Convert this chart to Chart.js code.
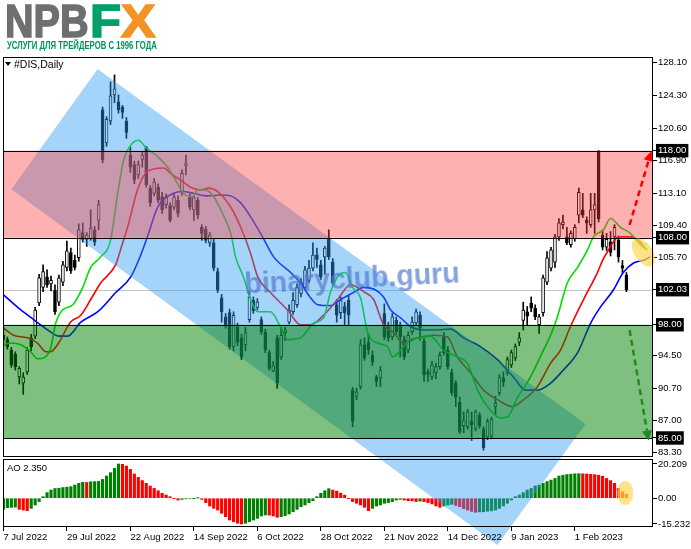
<!DOCTYPE html>
<html lang="ru">
<head>
<meta charset="utf-8">
<title>#DIS Daily</title>
<script src="https://cdn.jsdelivr.net/npm/chart.js@4.4.1/dist/chart.umd.min.js"></script>
<style>
  body { margin: 0; background: #fff; }
  #wrap { position: relative; width: 691px; height: 549px; overflow: hidden; font-family: 'Liberation Sans', Arial, sans-serif; }
  #myChart { position: absolute; left: 0; top: 0; }
  .abs { position: absolute; white-space: nowrap; line-height: 1; }
  .logo { top: -2px; font-size: 46px; font-weight: bold; line-height: 46px; transform-origin: 0 0; -webkit-text-stroke: 1.6px currentColor; }
  #logoNpb { left: 5px; color: #6e6f71; transform: scaleX(0.86); }
  #logoF { left: 90px; color: #00a067; transform: scaleX(1.1); }
  #logoX { left: 121px; color: #f39324; transform: scaleX(1.12); }
  #tagline { left: 7px; top: 40px; font-size: 11px; font-weight: bold; color: #00935c; transform-origin: 0 0; }
  #tri { left: 5px; top: 62px; width: 0; height: 0; border-left: 3px solid transparent; border-right: 3px solid transparent; border-top: 4px solid #000; }
  #symbol { left: 14px; top: 59px; font-size: 10.5px; color: #000; }
  #aoLabel { left: 7px; top: 463px; font-size: 9.5px; color: #000; }
  #mark { left: 352px; top: 278px; transform: translate(-50%, -50%) rotate(-3deg) scaleX(0.95); font-size: 30px; font-weight: bold; color: rgba(80, 118, 205, 0.68); pointer-events: none; }
</style>
</head>
<body>
<div id="wrap">
  <canvas id="myChart" width="691" height="549"></canvas>
  <div class="abs logo" id="logoNpb">NPB</div>
  <div class="abs logo" id="logoF">F</div>
  <div class="abs logo" id="logoX">X</div>
  <div class="abs" id="tagline">УСЛУГИ ДЛЯ ТРЕЙДЕРОВ С 1996 ГОДА</div>
  <div class="abs" id="tri"></div>
  <div class="abs" id="symbol">#DIS,Daily</div>
  <div class="abs" id="aoLabel"></div>
  <div class="abs" id="mark">binaryclub.guru</div>
</div>
<script>
// x axis labels, one every 16 daily bars
const tickBars = [0, 16, 32, 48, 64, 80, 96, 112, 128, 144];
const tickLabels = ['7 Jul 2022', '29 Jul 2022', '22 Aug 2022', '14 Sep 2022', '6 Oct 2022',
    '28 Oct 2022', '21 Nov 2022', '14 Dec 2022', '9 Jan 2023', '1 Feb 2023'];

const priceTicks = [128.10, 124.30, 120.60, 116.90, 113.10, 109.40, 105.70, 94.50, 90.70, 87.00, 83.30];
const markedPrices = [118.00, 108.00, 102.03, 98.00, 85.00];
const aoTicks = [20.209, 0, -15.232];

// daily candles #DIS
const opens = [
    96.8, 96.3, 95.1, 94.6, 92.0, 91.3, 92.6, 96.5, 96.7, 100.5,
    102.3, 103.5, 102.7, 102.0, 100.6, 102.9, 104.6, 106.3, 105.4, 105.7,
    108.6, 107.8, 107.9, 108.9, 110.0, 122.7, 118.9, 121.4, 124.4, 123.6,
    123.0, 121.4, 117.5, 116.4, 115.2, 117.0, 118.4, 113.7, 113.1, 113.8,
    112.7, 111.8, 111.7, 111.5, 112.3, 113.3, 116.3, 112.7, 111.2, 112.3,
    109.2, 109.0, 107.4, 107.4, 104.1, 101.1, 98.9, 99.4, 95.5, 97.7,
    96.5, 95.7, 98.6, 100.8, 100.0, 98.6, 97.2, 94.8, 92.7, 96.5,
    94.3, 97.1, 98.3, 99.5, 100.3, 101.6, 102.3, 103.1, 104.5, 106.0,
    104.9, 105.8, 108.0, 105.2, 100.3, 99.4, 100.1, 100.8, 90.5, 89.8,
    90.9, 95.7, 96.0, 94.5, 92.0, 91.9, 99.3, 97.7, 96.6, 98.5,
    98.0, 96.3, 95.1, 97.2, 98.2, 99.1, 96.1, 92.6, 92.0, 92.5,
    93.2, 96.6, 95.1, 92.5, 91.3, 89.1, 86.4, 86.3, 86.9, 86.1,
    87.6, 86.0, 85.1, 85.2, 88.6, 90.2, 91.9, 92.5, 93.4, 94.2,
    96.0, 98.5, 99.5, 100.5, 99.9, 98.0, 99.4, 102.9, 104.5, 105.2,
    108.1, 109.5, 108.1, 107.2, 107.9, 110.6, 111.2, 110.0, 109.5, 111.2,
    117.8, 108.3, 106.9, 107.5, 108.1, 107.7, 104.8, 103.7
];
const highs = [
    97.8, 96.6, 95.4, 94.9, 93.2, 92.5, 95.4, 96.9, 100.0, 103.8,
    104.9, 104.3, 103.6, 102.6, 103.7, 105.3, 107.6, 106.8, 106.0, 109.6,
    109.7, 108.6, 111.2, 109.3, 112.3, 123.0, 121.9, 125.9, 126.7, 124.4,
    123.2, 121.8, 118.4, 116.8, 116.8, 117.8, 118.5, 114.0, 114.8, 114.2,
    113.2, 113.0, 112.0, 113.0, 112.8, 115.8, 117.5, 113.0, 112.8, 112.6,
    109.5, 109.3, 108.6, 107.8, 104.5, 101.5, 99.3, 99.8, 99.5, 98.2,
    96.9, 97.7, 101.8, 101.2, 101.0, 98.9, 97.5, 95.1, 93.8, 96.8,
    97.7, 97.7, 100.3, 101.7, 102.7, 103.3, 104.7, 105.4, 107.4, 106.8,
    105.4, 107.0, 108.9, 105.6, 100.9, 101.2, 100.6, 101.4, 90.8, 90.7,
    96.3, 96.5, 96.9, 95.0, 92.2, 93.2, 100.4, 98.3, 99.3, 98.9,
    98.3, 96.7, 97.2, 98.9, 99.8, 99.5, 96.5, 92.9, 93.8, 93.6,
    94.9, 97.1, 95.5, 92.9, 91.6, 89.7, 88.0, 88.3, 88.0, 88.2,
    87.9, 86.3, 87.2, 87.4, 89.8, 92.3, 92.6, 94.3, 95.1, 95.8,
    97.1, 100.6, 100.1, 101.2, 100.3, 99.2, 103.7, 106.4, 106.9, 108.4,
    110.2, 110.6, 109.2, 108.8, 109.5, 113.7, 113.1, 110.4, 113.1, 113.1,
    118.0, 108.9, 108.5, 108.7, 109.5, 108.2, 105.4, 104.0
];
const lows = [
    95.6, 95.2, 93.1, 92.8, 91.2, 90.0, 92.3, 95.0, 96.4, 100.2,
    101.8, 102.3, 101.9, 99.2, 100.2, 102.5, 104.2, 103.9, 104.3, 105.3,
    107.5, 107.0, 107.7, 107.1, 108.9, 116.6, 118.5, 121.0, 123.5, 122.3,
    121.7, 119.4, 115.5, 114.2, 114.8, 116.1, 113.8, 111.6, 112.8, 112.0,
    110.8, 111.4, 109.8, 111.2, 110.4, 112.9, 115.2, 111.2, 110.0, 110.2,
    107.7, 107.4, 107.0, 104.2, 101.7, 98.3, 97.6, 95.2, 95.0, 95.6,
    94.0, 95.0, 98.3, 99.3, 99.7, 96.9, 94.8, 92.8, 92.6, 90.7,
    94.0, 96.2, 98.1, 99.2, 100.0, 101.2, 102.0, 102.8, 104.2, 104.6,
    103.2, 103.8, 105.5, 102.5, 98.3, 98.7, 98.0, 98.0, 86.3, 89.4,
    90.6, 93.9, 94.6, 93.3, 90.9, 90.9, 96.3, 96.1, 96.3, 96.9,
    94.3, 94.0, 94.8, 96.9, 97.9, 96.2, 91.5, 91.5, 91.7, 91.8,
    92.9, 94.5, 92.9, 89.9, 88.6, 85.5, 85.6, 86.0, 84.7, 85.8,
    86.1, 83.6, 84.8, 84.9, 87.6, 89.9, 90.9, 92.2, 93.1, 93.9,
    95.6, 97.4, 98.0, 99.5, 98.6, 97.0, 99.0, 102.6, 104.2, 104.6,
    107.7, 109.0, 107.2, 106.9, 107.6, 109.7, 110.3, 108.5, 109.2, 108.5,
    109.8, 106.6, 106.5, 105.9, 106.6, 105.2, 104.0, 101.8
];
const closes = [
    96.3, 95.5, 93.4, 93.2, 93.0, 92.0, 95.1, 95.5, 99.7, 103.4,
    104.1, 102.6, 103.1, 99.5, 103.4, 104.9, 106.5, 104.2, 104.6, 108.9,
    107.8, 108.3, 109.1, 107.5, 111.8, 116.9, 121.6, 124.3, 125.1, 122.7,
    122.4, 120.1, 116.1, 114.6, 116.4, 117.5, 114.1, 112.0, 114.4, 112.3,
    111.2, 112.7, 110.0, 112.7, 110.8, 115.4, 116.5, 111.5, 112.6, 110.6,
    108.5, 107.7, 108.3, 104.5, 102.0, 99.5, 98.0, 95.5, 99.1, 96.0,
    94.3, 97.1, 101.2, 99.6, 100.6, 97.2, 95.1, 93.0, 93.3, 91.3,
    96.8, 97.4, 99.7, 100.8, 102.3, 102.9, 104.3, 104.5, 106.0, 105.5,
    103.5, 106.8, 105.8, 102.8, 99.1, 100.8, 99.4, 99.1, 86.9, 90.3,
    95.7, 94.2, 95.1, 93.7, 91.5, 92.8, 96.6, 96.5, 98.9, 97.2,
    96.6, 94.3, 96.8, 98.3, 99.5, 97.6, 92.2, 92.3, 93.4, 93.2,
    94.5, 94.8, 93.2, 90.2, 89.7, 85.7, 87.0, 88.0, 86.5, 88.0,
    86.4, 83.9, 86.9, 87.1, 89.0, 92.0, 91.4, 94.0, 94.8, 95.5,
    96.5, 99.7, 99.0, 99.9, 98.9, 98.9, 103.4, 105.7, 106.6, 108.1,
    109.7, 109.8, 107.4, 108.5, 109.2, 113.2, 110.6, 109.7, 111.2, 111.8,
    110.2, 106.9, 107.8, 106.3, 109.2, 105.8, 104.5, 102.03
];

// Alligator lines: [bar, price]
const jawLine = [
    [0.1, 101.4], [4.4, 99.7], [7.6, 98.6], [11.2, 97.4], [13.9, 96.7], [16.2, 96.7], [19.5, 98.3],
    [23.8, 99.5], [28.3, 101.7], [32.1, 103.5], [34.6, 106.0], [36.3, 108.1], [38.9, 111.5],
    [42.9, 113.1], [45.2, 113.3], [47.9, 113.1], [51.5, 112.8], [54.7, 112.9], [57.3, 112.8],
    [59.8, 112.0], [62.3, 110.4], [65.3, 108.1], [68.1, 105.8], [72.4, 104.0], [74.9, 102.8],
    [77.4, 101.1], [79.2, 100.3], [82.4, 100.2], [85.0, 100.9], [88.2, 101.7], [90.8, 102.3],
    [93.8, 102.0], [95.8, 101.2], [97.6, 99.7], [100.1, 98.8], [102.6, 97.8], [105.9, 97.4],
    [109.4, 97.4], [112.7, 97.5], [116.0, 96.5], [120.2, 95.5], [124.5, 94.0], [128.5, 92.0],
    [131.6, 90.5], [134.6, 90.5], [137.9, 91.3], [141.1, 92.8], [144.7, 94.8], [148.0, 98.2],
    [150.4, 100.0], [153.7, 102.0], [156.2, 104.0], [158.8, 105.1], [161.3, 105.4], [163.0, 105.8]
];
const teethLine = [
    [0.1, 97.6], [2.6, 96.8], [6.1, 96.5], [8.6, 95.9], [10.7, 94.9], [11.9, 94.9], [13.9, 95.9],
    [16.9, 98.3], [19.5, 99.1], [22.0, 100.9], [24.5, 102.8], [28.3, 104.9], [29.5, 106.6],
    [31.3, 109.2], [33.8, 113.5], [35.8, 115.4], [37.9, 115.9], [40.4, 116.0], [42.1, 115.4],
    [44.7, 114.6], [47.2, 113.8], [49.7, 113.5], [51.7, 113.7], [54.0, 113.3], [57.3, 111.5],
    [59.8, 109.2], [62.3, 106.2], [64.1, 103.5], [67.3, 101.7], [71.6, 99.7], [74.9, 98.0],
    [77.4, 98.0], [80.7, 99.1], [84.2, 100.9], [87.5, 102.6], [90.8, 101.8], [93.3, 100.9],
    [95.8, 98.0], [98.3, 97.1], [100.8, 95.9], [104.4, 96.5], [108.4, 96.8], [111.9, 96.6],
    [114.4, 94.3], [117.7, 92.5], [121.0, 90.5], [124.5, 89.4], [128.3, 88.6], [131.1, 89.4],
    [134.6, 90.9], [137.9, 93.6], [140.4, 95.1], [142.9, 97.8], [146.2, 100.9], [149.7, 104.0],
    [151.0, 105.4], [152.5, 106.6], [153.7, 107.5], [155.0, 108.1], [158.0, 108.1], [160.5, 107.5],
    [162.0, 106.6]
];
const lipsLine = [
    [0.1, 95.7], [1.8, 95.9], [4.4, 95.7], [6.9, 94.9], [8.6, 94.1], [10.2, 94.2], [11.9, 95.3],
    [13.2, 98.2], [14.9, 99.7], [17.5, 100.3], [20.0, 102.3], [22.0, 104.6], [24.5, 105.8],
    [27.0, 107.7], [28.8, 113.1], [30.3, 116.9], [32.6, 118.9], [34.1, 119.2], [35.8, 118.4],
    [38.9, 117.3], [41.4, 116.1], [42.9, 115.0], [45.4, 113.1], [47.7, 112.7], [48.9, 113.5],
    [50.9, 113.5], [53.0, 112.7], [55.2, 110.8], [57.3, 108.5], [58.5, 105.8], [60.5, 103.5],
    [62.3, 100.9], [64.1, 99.5], [67.3, 99.5], [69.8, 97.8], [71.6, 96.3], [74.9, 96.5],
    [78.2, 98.2], [80.7, 98.8], [82.4, 101.7], [84.5, 103.7], [86.2, 104.0], [88.0, 102.3],
    [90.0, 101.1], [91.8, 97.1], [94.3, 95.9], [96.8, 95.5], [98.1, 94.3], [100.1, 95.1],
    [102.6, 96.3], [105.1, 96.5], [107.6, 96.7], [110.9, 95.1], [114.4, 94.3], [116.9, 93.6],
    [119.5, 90.5], [122.7, 88.2], [125.3, 87.3], [127.0, 87.4], [129.5, 89.6], [132.8, 92.0],
    [136.1, 95.1], [137.9, 96.8], [139.6, 98.9], [142.1, 102.8], [144.7, 104.6], [147.2, 106.6],
    [148.7, 108.1], [151.2, 108.9], [153.0, 110.2], [155.5, 109.2], [158.0, 108.5], [160.5, 107.2],
    [162.3, 106.6]
];

// Awesome Oscillator
const aoValues = [
    -6.6, -5.6, -5.4, -5.3, -6.6, -7.0, -7.4, -6.0, -4.0, -2.0,
    0.9, 3.3, 4.8, 5.7, 5.9, 6.3, 6.5, 6.8, 7.8, 8.8,
    9.4, 9.3, 9.7, 9.8, 9.9, 11.1, 13.1, 15.1, 17.6, 20.209,
    20.0, 19.0, 17.0, 14.3, 12.3, 10.4, 8.8, 7.2, 5.8, 4.4,
    2.9, 1.9, 0.9, -0.1, -1.1, -0.7, -0.4, -0.3, -0.1, 0.1,
    -0.7, -2.6, -4.6, -6.0, -7.0, -8.9, -10.9, -12.9, -13.9, -14.8,
    -15.232, -14.8, -13.9, -12.9, -11.9, -10.5, -9.9, -10.0, -10.5, -11.3,
    -10.9, -10.3, -9.3, -8.0, -6.6, -5.0, -4.0, -2.6, -1.5, 0.9,
    2.9, 4.4, 5.6, 4.8, 4.2, 3.0, 1.8, -0.1, -2.0, -3.0,
    -4.0, -5.4, -7.4, -6.0, -4.6, -4.0, -3.0, -2.6, -2.0, -1.1,
    -0.7, -1.1, -1.5, -1.6, -2.0, -1.7, -2.0, -2.6, -3.4, -4.6,
    -5.4, -4.6, -4.0, -3.6, -4.2, -5.0, -6.2, -7.0, -7.8, -8.3,
    -8.1, -8.0, -7.7, -7.5, -7.0, -6.0, -4.6, -3.0, -1.1, 0.9,
    1.9, 3.3, 4.8, 5.8, 7.2, 7.8, 8.8, 9.8, 10.7, 11.7,
    13.1, 13.6, 14.0, 14.2, 14.4, 14.5, 14.4, 14.3, 14.1, 13.9,
    13.6, 13.0, 11.7, 10.4, 8.8, 5.8, 3.8, 2.35
];

// drawings on the chart (bar, price)
const channelBars = [23.75, 146.7, 124.5, 2.0];
const channelPrices = [127.38, 86.6, 72.71, 113.56];
const levels = [118, 108, 98, 85];
const lastPrice = 102.03;
const upArrow = [[157.8, 109.46], [163.3, 117.96]];
const downArrow = [[157.8, 97.4], [162.6, 84.7]];
const priceMark = [161.3, 106.3];
const aoMark = [156.7, 3.1];


Chart.defaults.font.family = "'Liberation Sans', Arial, sans-serif";
Chart.defaults.font.size = 9.5;
Chart.defaults.color = '#000';

const isMarked = (v) => markedPrices.some(m => Math.abs(m - v) < 0.001);

const drawings = {
    id: 'drawings',
    beforeDatasetsDraw(chart) {
        const { ctx, chartArea: area, scales: { y } } = chart;
        ctx.save();
        ctx.strokeStyle = '#c4c4c4';
        ctx.lineWidth = 1;
        const py = Math.round(y.getPixelForValue(lastPrice)) + 0.5;
        ctx.beginPath();
        ctx.moveTo(area.left, py);
        ctx.lineTo(area.right, py);
        ctx.stroke();
        ctx.restore();
    },
    afterDatasetsDraw(chart) {
        const { ctx, chartArea: area, scales: { x, y, y2 } } = chart;
        ctx.save();

        // falling channel
        ctx.fillStyle = 'rgba(46, 156, 244, 0.43)';
        ctx.beginPath();
        channelBars.forEach((bar, i) => {
            const px = x.getPixelForValue(bar);
            const py = y.getPixelForValue(channelPrices[i]);
            if (i === 0) ctx.moveTo(px, py); else ctx.lineTo(px, py);
        });
        ctx.closePath();
        ctx.fill();

        // resistance and support zones
        const band = (hi, lo, color) => {
            const top = y.getPixelForValue(hi);
            const bottom = y.getPixelForValue(lo);
            ctx.fillStyle = color;
            ctx.fillRect(area.left, top, area.right - area.left, bottom - top);
        };
        band(levels[0], levels[1], 'rgba(255, 60, 60, 0.4)');
        band(levels[2], levels[3], 'rgba(0, 128, 0, 0.5)');

        ctx.strokeStyle = '#000';
        ctx.lineWidth = 1;
        levels.forEach(v => {
            const py = Math.round(y.getPixelForValue(v)) + 0.5;
            ctx.beginPath();
            ctx.moveTo(area.left, py);
            ctx.lineTo(area.right, py);
            ctx.stroke();
        });

        // yellow marks
        ctx.fillStyle = 'rgba(255, 215, 80, 0.7)';
        ctx.beginPath();
        ctx.ellipse(x.getPixelForValue(priceMark[0]), y.getPixelForValue(priceMark[1]), 16, 9, 0.95, 0, Math.PI * 2);
        ctx.fill();
        ctx.beginPath();
        ctx.ellipse(x.getPixelForValue(aoMark[0]), y2.getPixelForValue(aoMark[1]), 8, 12, 0, 0, Math.PI * 2);
        ctx.fill();

        // dashed arrows
        const arrow = (from, to, color) => {
            const x0 = x.getPixelForValue(from[0]), y0 = y.getPixelForValue(from[1]);
            const x1 = x.getPixelForValue(to[0]), y1 = y.getPixelForValue(to[1]);
            const ang = Math.atan2(y1 - y0, x1 - x0);
            const xb = x1 - 10 * Math.cos(ang), yb = y1 - 10 * Math.sin(ang);
            ctx.strokeStyle = color;
            ctx.lineWidth = 2.5;
            ctx.setLineDash([6, 4]);
            ctx.beginPath();
            ctx.moveTo(x0, y0);
            ctx.lineTo(xb, yb);
            ctx.stroke();
            ctx.setLineDash([]);
            ctx.fillStyle = color;
            ctx.beginPath();
            ctx.moveTo(x1, y1);
            ctx.lineTo(xb + 5 * Math.sin(ang), yb - 5 * Math.cos(ang));
            ctx.lineTo(xb - 5 * Math.sin(ang), yb + 5 * Math.cos(ang));
            ctx.closePath();
            ctx.fill();
        };
        arrow(upArrow[0], upArrow[1], '#ff0000');
        arrow(downArrow[0], downArrow[1], '#1e8c1e');

        // panel frames
        ctx.strokeStyle = '#000';
        ctx.lineWidth = 1;
        ctx.strokeRect(area.left + 0.5, y.top + 0.5, area.right - area.left - 1, y.bottom - y.top - 2);
        ctx.strokeRect(area.left + 0.5, y2.top + 1.5, area.right - area.left - 1, y2.bottom - y2.top - 2);
        ctx.restore();
    }
};

const ctx = document.getElementById('myChart');

const chart = new Chart(ctx, {
    type: 'bar',
    data: {
        datasets: [
            {
                type: 'line', label: 'Lips', yAxisID: 'y', order: 0,
                data: lipsLine.map(([bar, v]) => ({ x: bar, y: v })),
                borderColor: '#00e000', borderWidth: 1.6, pointRadius: 0, cubicInterpolationMode: 'monotone',
            },
            {
                type: 'line', label: 'Teeth', yAxisID: 'y', order: 0,
                data: teethLine.map(([bar, v]) => ({ x: bar, y: v })),
                borderColor: '#ff0000', borderWidth: 1.6, pointRadius: 0, cubicInterpolationMode: 'monotone',
            },
            {
                type: 'line', label: 'Jaw', yAxisID: 'y', order: 0,
                data: jawLine.map(([bar, v]) => ({ x: bar, y: v })),
                borderColor: '#0000ff', borderWidth: 1.6, pointRadius: 0, cubicInterpolationMode: 'monotone',
            },
            {
                label: 'Body', yAxisID: 'y', order: 1,
                data: opens.map((o, i) => ({ x: i, y: [o, closes[i]] })),
                backgroundColor: opens.map((o, i) => closes[i] >= o ? '#ffffff' : '#000000'),
                borderColor: '#000', borderWidth: 1, borderSkipped: false,
                barThickness: 3, minBarLength: 1, grouped: false,
            },
            {
                label: 'Wick', yAxisID: 'y', order: 2,
                data: highs.map((h, i) => ({ x: i, y: [lows[i], h] })),
                backgroundColor: '#000', barThickness: 1, grouped: false,
            },
            {
                label: 'AO', yAxisID: 'y2', order: 3,
                data: aoValues.map((v, i) => ({ x: i, y: v })),
                backgroundColor: aoValues.map((v, i) => i > 0 && v < aoValues[i - 1] ? '#ff0000' : '#008000'),
                barThickness: 2.5, grouped: false,
            },
        ],
    },
    options: {
        responsive: false,
        animation: false,
        events: [],
        layout: { padding: { top: 57, left: 3, right: 0, bottom: 0 } },
        plugins: { legend: { display: false }, tooltip: { enabled: false } },
        scales: {
            x: {
                type: 'linear', position: 'bottom', min: -0.1, max: 163.7, offset: false, z: 1,
                grid: { drawOnChartArea: false, tickLength: 4, color: '#000', offset: false },
                border: { display: false },
                afterBuildTicks: (s) => { s.ticks = tickBars.map(v => ({ value: v })); },
                afterFit: (s) => { s.height = 22; },
                ticks: {
                    z: 1, autoSkip: false, maxRotation: 0, align: 'start', padding: 1,
                    callback: (v, i) => tickLabels[i],
                },
            },
            y: {
                type: 'linear', position: 'right', stack: 'panes', stackWeight: 401,
                min: 82.70, max: 128.755, z: 1,
                grid: { drawOnChartArea: false, tickLength: 4, color: '#000' },
                border: { display: false },
                afterBuildTicks: (s) => {
                    s.ticks = priceTicks.concat(markedPrices).sort((a, b) => b - a).map(v => ({ value: v }));
                },
                afterFit: (s) => { s.width = 38; },
                ticks: {
                    z: 1, autoSkip: false, padding: 1,
                    color: (c) => isMarked(c.tick.value) ? '#fff' : '#000',
                    showLabelBackdrop: (c) => isMarked(c.tick.value),
                    backdropColor: '#000',
                    backdropPadding: { x: 2, y: 1 },
                    callback: (v) => v.toFixed(2),
                },
            },
            y2: {
                type: 'linear', position: 'right', stack: 'panes', stackWeight: 69,
                min: -17.01, max: 23.75, z: 1,
                grid: { drawOnChartArea: false, tickLength: 4, color: '#000' },
                border: { display: false },
                afterBuildTicks: (s) => { s.ticks = aoTicks.map(v => ({ value: v })); },
                afterFit: (s) => { s.width = 38; },
                ticks: {
                    z: 1, autoSkip: false, padding: 1,
                    callback: (v) => v === 0 ? '0.00' : v.toFixed(3),
                },
            },
        },
    },
    plugins: [drawings],
});

document.getElementById('aoLabel').textContent = 'AO ' + aoValues[aoValues.length - 1].toFixed(3);
const tagline = document.getElementById('tagline');
tagline.style.transform = `scaleX(${150 / tagline.offsetWidth})`;
</script>
</body>
</html>
